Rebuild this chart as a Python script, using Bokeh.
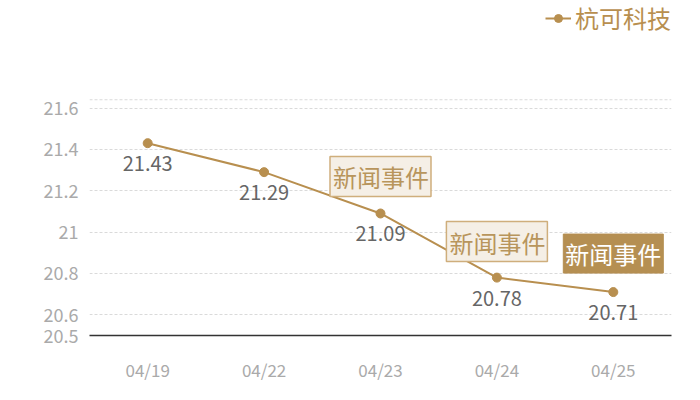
from bokeh.plotting import figure
from bokeh.models import (ColumnDataSource, FixedTicker, CustomJSTickFormatter, Span,
                          Legend, LegendItem, Range1d, FactorRange)
from bokeh.core.properties import value
from bokeh.embed import file_html
from bokeh.resources import INLINE

dates = ["04/19", "04/22", "04/23", "04/24", "04/25"]
prices = [21.43, 21.29, 21.09, 20.78, 20.71]
series_name = "杭可科技"
event_dates = ["04/23", "04/24", "04/25"]
event_prices = [21.09, 20.78, 20.71]
event_text = ["新闻事件", "新闻事件", "新闻事件"]
y_ticks = [20.5, 20.6, 20.8, 21.0, 21.2, 21.4, 21.6]
y_tick_labels = ["20.5", "20.6", "20.8", "21", "21.2", "21.4", "21.6"]
y_min, y_top_line, y_max = 20.5, 21.64, 22.12

GOLD = "#b88f4f"
FONT = "Noto Sans CJK SC"

p = figure(width=684, height=384, output_backend="svg", toolbar_location=None,
           x_range=FactorRange(*dates, range_padding=0), y_range=Range1d(y_min, y_max),
           min_border_left=89, min_border_right=13, min_border_top=0, min_border_bottom=48)
p.outline_line_color = None
p.background_fill_color = "white"

src = ColumnDataSource(dict(x=dates, y=prices, lab=[f"{v:.2f}" for v in prices]))
ln = p.line("x", "y", source=src, line_color=GOLD, line_width=2)
sc = p.scatter("x", "y", source=src, size=9, fill_color=GOLD, line_color=GOLD)
p.text("x", "y", text="lab", source=src, text_align="center", text_baseline="top",
       y_offset=13, text_font=value(FONT), text_font_size="20px", text_color="#666666")

# events
ev_light = ColumnDataSource(dict(x=event_dates[:2], y=event_prices[:2], t=event_text[:2],
                                 off=[-17, -16]))
p.text("x", "y", text="t", source=ev_light, text_align="center", text_baseline="bottom",
       y_offset="off", text_font=value(FONT), text_font_size="24px", text_color="#b8955c",
       background_fill_color="#f5efe6", border_line_color="#cfae7c", border_line_width=1.5,
       padding=[3, 2, 3, 2])
ev_dark = ColumnDataSource(dict(x=event_dates[2:], y=event_prices[2:], t=event_text[2:]))
p.text("x", "y", text="t", source=ev_dark, text_align="center", text_baseline="bottom",
       y_offset=-19, text_font=value(FONT), text_font_size="24px", text_color="white",
       background_fill_color="#b58f52", border_line_color="#b58f52", border_line_width=1,
       padding=[2, 2, 2, 2])

# axes
p.yaxis.ticker = FixedTicker(ticks=y_ticks)
p.yaxis.formatter = CustomJSTickFormatter(args=dict(tv=y_ticks, tl=y_tick_labels), code="""
  for (let i = 0; i < tv.length; i++) { if (Math.abs(tv[i]-tick) < 1e-6) return tl[i]; }
  return String(tick);
""")
p.yaxis.axis_line_color = None
p.yaxis.major_tick_line_color = None
p.yaxis.minor_tick_line_color = None
p.yaxis.major_label_text_color = "#aaaaaa"
p.yaxis.major_label_text_font = FONT
p.yaxis.major_label_text_font_size = "18px"
p.yaxis.major_label_standoff = 5

p.xaxis.axis_line_color = "#333333"
p.xaxis.axis_line_width = 1.5
p.xaxis.major_tick_line_color = None
p.xaxis.minor_tick_line_color = None
p.xaxis.major_label_text_color = "#aaaaaa"
p.xaxis.major_label_text_font = FONT
p.xaxis.major_label_text_font_size = "17px"
p.xaxis.major_label_standoff = 15

p.xgrid.grid_line_color = None
p.ygrid.grid_line_color = "#dadada"
p.ygrid.grid_line_dash = "3 2"
p.add_layout(Span(location=y_top_line, dimension="width", line_color="#dadada", line_dash="3 2"))

legend = Legend(items=[LegendItem(label=series_name, renderers=[ln, sc])],
                location="top_right", orientation="horizontal",
                label_text_font=FONT, label_text_font_size="24px", label_text_color=GOLD,
                background_fill_alpha=0, border_line_color=None,
                glyph_width=26, label_standoff=4, padding=0, margin=0)
p.add_layout(legend, "center")

open("out.html", "w").write(file_html(p, INLINE))
